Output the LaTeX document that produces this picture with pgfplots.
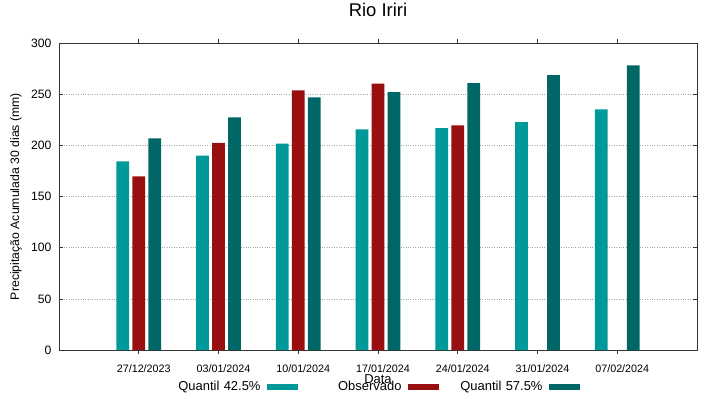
\documentclass[border=0pt]{standalone}
\usepackage{pgfplots}
\pgfplotsset{compat=1.18}
\usepackage{fontspec}
\setmainfont{Liberation Sans}
\definecolor{qlow}{HTML}{009999}
\definecolor{obs}{HTML}{990F0F}
\definecolor{qhigh}{HTML}{006666}
\begin{document}
\begin{tikzpicture}
\useasboundingbox (-59bp,-49bp) rectangle (660bp,350bp);
\begin{axis}[
  scale only axis,
  width=638bp, height=307bp,
  at={(0,0)}, anchor=south west,
  xmin=-1, xmax=7, ymin=0, ymax=300,
  xtick={0,1,2,3,4,5,6},
  xticklabels={27/12/2023,03/01/2024,10/01/2024,17/01/2024,24/01/2024,31/01/2024,07/02/2024},
  ytick={0,50,100,150,200,250,300},
  tick align=inside,
  major tick length=4bp,
  axis line style={black!80, line width=0.8bp},
  every tick/.style={black!80, line width=0.6bp},
  ymajorgrids,
  grid style={gray!70, dotted, line width=0.6bp},
  /pgf/number format/assume math mode=true,
  yticklabel style={font=\fontsize{12.2}{14}\selectfont, xshift=-4bp},
  xticklabel style={font=\fontsize{10.8}{13}\selectfont, yshift=-7bp, xshift=5bp},
  title={Rio Iriri},
  title style={font=\fontsize{18.5}{22}\selectfont, at={(axis description cs:0.5,1)}, anchor=base, yshift=21bp},
  xlabel={Data},
  xlabel style={font=\fontsize{13}{15}\selectfont, at={(axis description cs:0.5,0)}, anchor=base, yshift=-33bp},
  ylabel={Precipitação Acumulada 30 dias (mm)},
  ylabel style={font=\fontsize{12.3}{14}\selectfont, at={(axis description cs:0,0.5)}, anchor=center, yshift=43bp},
  ybar,
  bar width=0.16,
  legend columns=3,
  legend plot pos=right,
  legend image code/.code={\fill[#1,draw=none] (0bp,-3bp) rectangle (31bp,3bp);},
  legend style={draw=none, fill=none, font=\fontsize{13}{15}\selectfont,
    at={(axis description cs:0.5,0)}, anchor=center, yshift=-37bp, xshift=-4bp,
    nodes={text width=92bp, align=right, inner sep=1bp},
    /tikz/every odd column/.append style={column sep=6bp},
    /tikz/every even column/.append style={column sep=10bp}},
]
\addplot[fill=qlow, draw=none, bar shift=-0.2] coordinates {
  (0,184.4) (1,189.9) (2,201.6) (3,215.6) (4,216.9) (5,222.8) (6,235.2)};
\addlegendentry{Quantil 42.5\%}
\addplot[fill=obs, draw=none, bar shift=0] coordinates {
  (0,169.7) (1,202.3) (2,253.8) (3,260.3) (4,219.5)};
\addlegendentry{Observado}
\addplot[fill=qhigh, draw=none, bar shift=0.2] coordinates {
  (0,206.9) (1,227.4) (2,246.9) (3,252.1) (4,260.9) (5,268.7) (6,278.2)};
\addlegendentry{Quantil 57.5\%}
\end{axis}
\end{tikzpicture}
\end{document}
